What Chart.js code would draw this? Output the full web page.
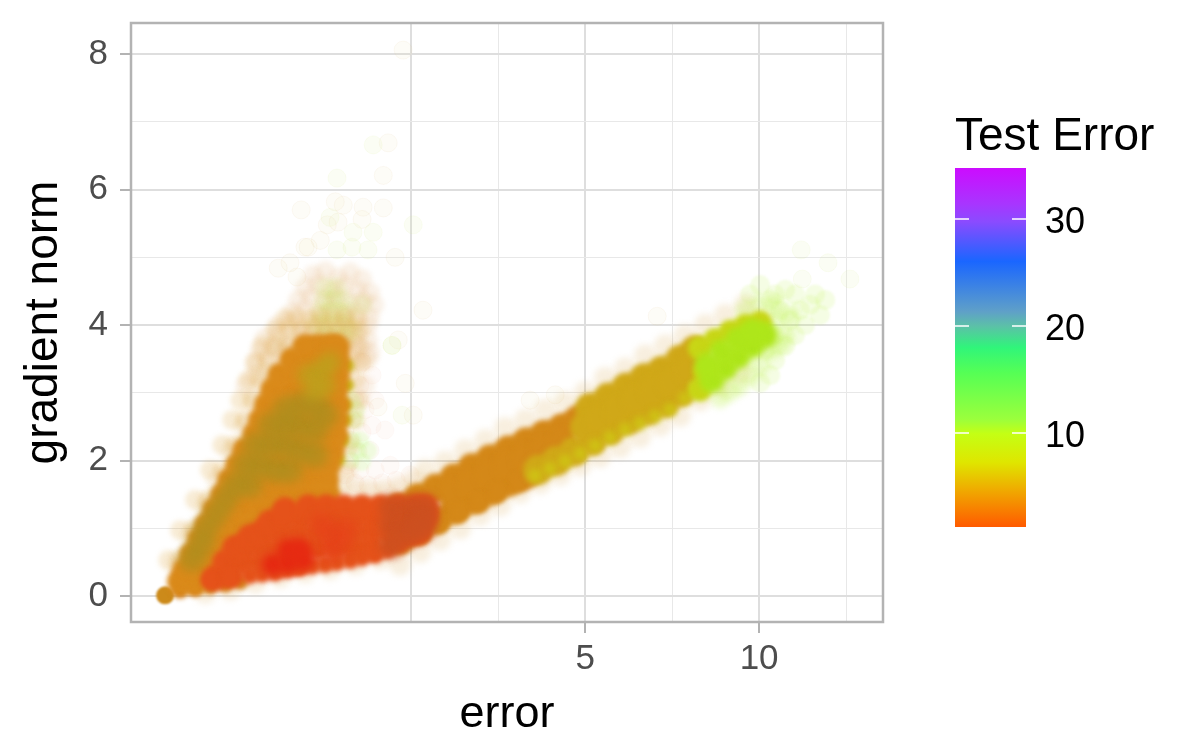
<!DOCTYPE html>
<html>
<head>
<meta charset="utf-8">
<title>gradient norm vs error</title>
<script src="https://cdn.jsdelivr.net/npm/chart.js@4/dist/chart.umd.min.js"></script>
<style>
  html, body { margin: 0; padding: 0; background: #fff; }
  canvas { display: block; }
</style>
</head>
<body>
<canvas id="chart" width="1200" height="750"></canvas>
<script>
// axis ticks
const xTickValues = [0, 2.5, 5, 7.5, 10, 12.5];
const xTickLabels = ['', '', '5', '', '10', ''];
const yTickValues = [0, 1, 2, 3, 4, 5, 6, 7, 8];
const yTickLabels = ['0', '', '2', '', '4', '', '6', '', '8'];

// colour bar
const colorBarTicks = [10, 20, 30];
const colorBarRange = [1.21, 34.77];
const colorBarStops = [
  [0, '#cc0cff'], [0.1, '#a835ff'], [0.15, '#8a4bff'], [0.26, '#1a66ff'],
  [0.4, '#5fa0c8'], [0.44, '#5cc0a8'], [0.5, '#30f57a'], [0.57, '#55ff55'],
  [0.7, '#9bff3c'], [0.74, '#c4ff14'], [0.82, '#dfe600'], [0.9, '#f0a800'], [1, '#ff5a00']
];

// stray points
const strayPeach = [
  [-0.23,8.06],[-0.66,6.69],[-0.80,6.21],[-3.16,5.70],[-2.18,5.82],[-1.95,5.77],[-1.38,5.74],[-0.80,5.73],
  [-2.41,5.48],[-2.10,5.52],[-1.41,5.56],[-2.61,5.25],[-3.05,5.15],[-2.96,5.15],[-0.46,5.00],[-3.48,4.92],
  [-3.82,4.84],[-3.28,4.71],[0.34,4.22],[-0.37,3.78],[-0.17,3.14],[-0.95,2.79],[0.06,2.67],[7.07,4.13],[3.42,2.89],[4.14,2.97]
];
const strayGreen = [
  [-1.09,6.66],[-2.13,6.17],[-2.33,5.59],[0.06,5.48],[-1.67,5.37],[-1.09,5.37],[-1.70,5.15],[-2.13,5.11],
  [-1.24,5.11],[-0.55,3.70],[-0.55,3.70],[-0.26,2.67],[11.21,5.11],[11.98,4.92],[12.61,4.68],[11.24,4.68]
];

// thin cloud above the left arm
const coneFuzz = [
  [-2.82,4.74],[-2.47,4.80],[-2.10,4.70],[-1.75,4.78],[-1.41,4.68],
  [-3.05,4.55],[-2.67,4.60],[-2.30,4.50],[-1.93,4.58],[-1.55,4.52],[-1.18,4.48],
  [-3.25,4.37],[-2.87,4.42],[-2.50,4.33],[-2.13,4.40],[-1.75,4.32],[-1.38,4.37],[-1.06,4.30],
  [-3.42,4.19],[-3.05,4.24],[-2.67,4.15],[-2.30,4.22],[-1.93,4.14],[-1.55,4.20],[-1.18,4.12],
  [-3.82,4.00],[-3.48,4.05],[-3.10,3.96],[-2.73,4.02],[-2.36,3.95],[-1.98,4.03],[-1.61,3.97],[-1.24,4.00],
  [-4.20,3.81],[-3.82,3.86],[-3.45,3.78],[-3.05,3.84],[-2.70,3.78],[-2.33,3.84],[-1.95,3.79],[-1.58,3.85],[-1.24,3.78],
  [-4.34,3.63],[-3.97,3.68],[-3.65,3.60],[-1.61,3.63],[-1.41,3.68],[-1.18,3.60],
  [-4.48,3.45],[-4.14,3.50],[-1.55,3.45],[-1.24,3.50],[-4.77,3.11],[-4.48,3.26],[-1.32,3.11],[-1.47,2.89]
];
const coneGreen = [
  [-2.47,4.55],[-2.16,4.55],[-2.50,4.37],[-2.24,4.37],[-1.95,4.37],[-2.61,4.19],[-2.36,4.19],[-2.10,4.19],[-1.84,4.19],
  [-2.73,4.00],[-2.47,4.00],[-2.21,4.00],[-1.90,4.00],[-2.56,3.81],[-2.24,3.81],[-1.93,3.81],[-1.70,3.93],[-1.41,4.30]
];
// thicker fringe hugging the arm
const coneMid = [
  [-4.28,3.70],[-3.91,3.70],[-3.53,3.70],[-1.90,3.70],[-1.55,3.70],
  [-3.91,3.93],[-3.53,3.93],[-3.19,3.93],[-2.84,3.93],[-2.50,3.93],[-2.16,3.93],[-1.81,3.93],[-1.47,3.93],
  [-3.62,4.10],[-3.28,4.10],[-2.93,4.10],[-2.59,4.10],[-2.24,4.10],[-1.90,4.10],[-1.55,4.10],
  [-4.48,3.45],[-4.11,3.45],[-1.75,3.45],[-1.41,3.45],[-4.68,3.19],[-4.34,3.19],[-1.61,3.19],
  [-4.91,2.89],[-4.57,2.89],[-1.52,2.89],[-5.14,2.60],[-4.77,2.60],[-1.61,2.60],
  [-5.43,2.23],[-5.06,2.23],[-1.75,2.23],[-5.78,1.86],[-5.43,1.86],[-1.84,1.86],
  [-6.21,1.42],[-5.83,1.42],[-6.64,.97],[-6.26,.97],[-6.98,.53],[-6.64,.53]
];
// pale patch right of the arm, just above the band
const sideFuzz = [
  [-1.70,3.63],[-1.41,3.45],[-1.75,3.26],[-1.47,3.11],[-1.12,3.26],[-1.61,2.89],[-1.32,2.75],[-1.03,2.89],
  [-1.70,2.60],[-1.41,2.42],[-1.12,2.52],[-0.75,2.45],[-1.75,2.30],[-1.52,2.13],[-1.18,2.15],[-1.75,1.98],
  [-1.47,1.86],[-1.03,1.86],[-0.60,1.93],[-1.90,1.79],[-1.61,1.67],[-1.24,1.64],[-0.83,1.67],[-0.43,1.71],[-0.03,1.79],
  [-1.84,2.75],[-1.90,2.45],[-1.84,2.15],[-1.84,1.93]
];
const sideGreen = [
  [-1.70,2.89],[-1.61,2.60],[-1.70,2.30],[-1.55,2.15],[-1.75,2.01],[-1.41,1.98],[-1.47,2.30],[-1.58,2.75],[-1.24,2.15]
];
// soft edge round the arm and the band
const edgeHalo = [
  [-6.70,.46],[-6.29,.90],[-5.86,1.34],[-5.55,1.71],[-5.14,2.15],[-4.77,2.52],[-4.48,2.89],[-4.11,3.26],[-3.76,3.63],
  [0.40,1.86],[0.98,1.98],[1.55,2.15],[2.13,2.30],[2.70,2.48],[3.28,2.60],[3.85,2.75],[4.43,2.86],[5.00,3.01],
  [5.57,3.22],[6.15,3.36],[6.72,3.55],[7.30,3.70],[7.87,3.85],[8.45,4.00],[9.02,4.15],[9.60,4.30],
  [-0.32,.46],[0.26,.65],[0.83,.83],[1.41,1.00],[1.98,1.20],[2.56,1.34],[3.13,1.53],[3.71,1.67],[4.28,1.79],
  [4.86,1.93],[5.43,2.06],[6.01,2.20],[6.58,2.35],[7.16,2.52],[7.73,2.66],[8.30,2.89],[8.88,3.11],[9.45,3.30],
  [-2.04,1.62],[-1.61,1.58],[-1.18,1.55],[-0.75,1.55],[-0.32,1.60],[0.11,1.70],
  [-5.92,.05],[-5.20,.10],[-4.48,.20],[-3.76,.28],[-3.05,.35],[-2.33,.40],[-1.61,.47],[-0.89,.55]
];
const tailHalo = [
  [10.32,4.37],[10.60,4.22],[10.89,4.07],[11.18,4.22],[11.47,4.30],[11.03,4.45],[10.75,4.52],[10.46,4.45],
  [11.61,4.45],[11.90,4.37],[11.75,4.15],[11.32,4.00],[11.03,3.85],[10.75,3.70],[10.46,3.48],[10.32,3.26],
  [10.03,4.59],[9.74,4.45],[10.03,3.15],[10.46,3.85],[10.17,3.63]
];
const tailGlow = [
  [10.46,4.07],[10.75,3.85],[10.60,3.70],[10.32,3.63],[10.03,3.41],[9.74,3.26],[9.45,3.11],
  [10.89,4.15],[10.46,4.30],[10.03,4.30],[9.60,4.22],[9.17,3.02],[8.88,2.92]
];

// dense body of the right band, one list per colour zone
const bandYellowEdge = [
  [3.56,1.78],[3.99,1.88],[4.43,1.99],[4.86,2.10],[5.29,2.22],[5.72,2.34],[6.15,2.46],[6.58,2.55],[7.01,2.65],[7.44,2.75],[7.87,2.92],[8.22,3.06]
];
const bandOrange = [
  [-0.32,1.30],[0.20,1.45],[0.72,1.59],[1.24,1.74],[1.75,1.89],[2.27,2.02],[2.79,2.15],[3.30,2.27],[3.82,2.38],[4.34,2.48],[4.80,2.60],
  [-0.32,.83],[0.20,.97],[0.72,1.12],[1.24,1.27],[1.75,1.42],[2.27,1.55],[2.79,1.68],[3.30,1.80],
  [1.24,1.51],[1.75,1.65],[2.27,1.79],[2.79,1.92],[3.30,2.03],[3.82,2.13],[4.34,2.25]
];
const bandUnder = [[0.26,.93],[0.83,1.09],[1.41,1.24],[1.98,1.37],[2.50,1.52],[3.13,1.67]];
const bandGold = [
  [3.65,1.86],[4.17,1.99],[4.68,2.13],[5.20,2.29],[5.72,2.45],[6.24,2.60],[6.75,2.73],[7.27,2.85],[7.73,3.01],
  [5.14,2.78],[5.66,2.93],[6.18,3.08],[6.70,3.22],[7.21,3.33],[7.73,3.49],[8.16,3.63],
  [5.00,2.49],[5.43,2.60],[5.95,2.76],[6.47,2.90],[6.98,3.04],[7.50,3.15],[8.02,3.32]
];
const bandLime = [[8.30,3.66],[8.74,3.78],[9.17,3.90],[9.60,3.99],[10.03,4.04],[8.45,3.30],[8.30,3.05]];
const bandGreen = [
  [8.65,3.19],[9.02,3.37],[9.40,3.54],[9.80,3.70],[10.17,3.85],[8.94,3.60],[9.40,3.78],[9.80,3.90],[8.53,3.41]
];

// left arm
const armTip = [[-7.07,0.01]];
const armFoot = [[-6.64,.08],[-6.21,.11],[-5.78,.14],[-5.34,.17],[-4.91,.21]];
const armOrange = [
  [-6.64,.21],[-6.21,.21],[-6.49,.38],[-6.06,.38],[-5.63,.38],[-6.29,.61],[-5.86,.61],[-5.43,.61],
  [-6.06,.83],[-5.63,.83],[-5.20,.83],[-4.77,.83],[-5.86,1.05],[-5.43,1.05],[-5.00,1.05],[-4.57,1.05],[-4.14,1.05],
  [-5.63,1.27],[-5.20,1.27],[-4.77,1.27],[-4.34,1.27],[-3.91,1.27],[-3.48,1.27],
  [-5.40,1.49],[-4.97,1.49],[-4.54,1.49],[-4.11,1.49],[-3.68,1.49],[-3.25,1.49],[-2.82,1.49],[-2.39,1.49],
  [-5.20,1.71],[-4.77,1.71],[-4.34,1.71],[-3.91,1.71],[-3.48,1.71],[-3.05,1.71],[-2.61,1.71],[-2.44,1.71],
  [-4.97,1.93],[-4.54,1.93],[-4.11,1.93],[-3.68,1.93],[-3.25,1.93],[-2.82,1.93],[-2.39,1.93],
  [-4.77,2.15],[-4.34,2.15],[-3.91,2.15],[-3.48,2.15],[-3.05,2.15],[-2.61,2.15],[-2.27,2.15],
  [-4.48,2.38],[-4.11,2.38],[-3.68,2.38],[-3.25,2.38],[-2.82,2.38],[-2.39,2.38],[-2.18,2.38],
  [-4.31,2.60],[-3.91,2.60],[-3.48,2.60],[-3.05,2.60],[-2.61,2.60],[-2.18,2.60],
  [-4.14,2.82],[-3.68,2.82],[-3.25,2.82],[-2.82,2.82],[-2.39,2.82],[-2.13,2.82],
  [-3.97,3.04],[-3.45,3.04],[-3.02,3.04],[-2.59,3.04],[-2.18,3.04],
  [-3.76,3.26],[-3.25,3.26],[-2.79,3.26],[-2.36,3.26],[-2.13,3.26],
  [-3.42,3.48],[-2.90,3.48],[-2.47,3.48],[-2.13,3.48],
  [-3.05,3.68],[-2.67,3.68],[-2.33,3.68],[-2.13,3.68]
];
const armOlive = [
  [-6.30,.55],[-6.06,.75],[-5.92,.97],[-5.63,1.20],[-5.34,1.42],[-5.06,1.64],[-4.63,1.64],[-4.77,1.93],[-4.34,1.93],[-3.91,1.86],[-3.48,1.86],
  [-4.48,2.23],[-4.05,2.23],[-3.62,2.23],[-3.19,2.16],[-2.76,2.08],[-4.05,2.52],[-3.62,2.52],[-3.19,2.52],[-2.76,2.45],[-2.47,2.67],
  [-3.62,2.75],[-3.19,2.82],[-2.76,2.82]
];
const armGreen = [[-2.96,3.26],[-2.61,3.33],[-2.47,3.11],[-2.79,3.04],[-2.33,3.45]];
const armEdge = [[-1.90,2.82],[-1.90,2.60],[-1.98,2.30],[-2.10,2.01],[-1.84,3.11],[-1.84,3.40]];

// red lower wedge
const wedgeOrange = [
  [-5.63,.27],[-5.20,.31],[-5.34,.50],[-4.83,.50],[-4.31,.50],[-3.79,.50],[-3.28,.49],
  [-5.06,.71],[-4.77,.72],[-4.25,.72],[-3.74,.72],[-3.22,.72],[-2.70,.72],[-2.18,.72],[-1.67,.72],[-1.15,.72],
  [-4.63,.87],[-4.28,.94],[-3.76,.94],[-3.25,.94],[-2.73,.94],[-2.21,.94],[-1.70,.94],[-1.18,.94],[-0.66,.94],[-0.23,.94],[0.20,.94],
  [-4.05,1.09],[-3.62,1.17],[-3.10,1.17],[-2.59,1.17],[-2.07,1.17],[-1.55,1.17],[-1.03,1.17],[-0.52,1.17],[0,1.17],[0.40,1.17],
  [-3.62,1.27],[-2.96,1.31],[-2.44,1.31],[-1.93,1.31],[-1.41,1.31],[-0.89,1.31],[-0.37,1.31],[0.14,1.31],[0.40,1.31]
];
const wedgeFloor = [
  [-5.78,.23],[-5.20,.27],[-4.63,.31],[-4.28,.33],[-3.91,.35],[-3.56,.39],[-3.19,.43],[-2.84,.45],[-2.47,.47],
  [-2.13,.50],[-1.75,.53],[-1.41,.57],[-1.03,.61],[-0.69,.68],[-0.32,.77],[-0.03,.87],[0.26,.96]
];
const wedgeRust = [
  [-0.55,1.31],[-0.03,1.31],[0.40,1.31],[-0.55,1.05],[-0.03,1.09],[0.40,1.15],[-0.55,.75],[-0.09,.90],[0.32,1.00]
];
const wedgeCore = [[-3.97,.46],[-3.53,.49],[-3.10,.53],[-3.53,.68],[-3.19,.69]];
const wedgeMid = [[-2.39,.65],[-2.04,.75],[-2.33,.90],[-1.90,.97],[-2.56,1.05]];

const layers = [
  { data: strayPeach,     color: 'rgba(238,220,170,0.09)', r: 9,  ring: 'rgba(225,200,150,0.10)' },
  { data: strayGreen,     color: 'rgba(215,240,150,0.10)', r: 9,  ring: 'rgba(215,235,150,0.10)' },
  { data: coneFuzz,       color: 'rgba(226,178,130,0.19)', r: 10, glow: 2.5 },
  { data: coneGreen,      color: 'rgba(190,215,70,0.16)',  r: 10, glow: 2.5 },
  { data: sideFuzz,       color: 'rgba(236,190,170,0.08)', r: 9,  ring: 'rgba(230,190,170,0.06)' },
  { data: sideGreen,      color: 'rgba(190,250,130,0.22)', r: 9,  glow: 1.5 },
  { data: coneMid,        color: 'rgba(222,170,70,0.22)',  r: 10, glow: 2.5 },
  { data: edgeHalo,       color: 'rgba(225,180,110,0.22)', r: 11, glow: 3 },
  { data: tailHalo,       color: 'rgba(190,245,90,0.16)',  r: 10, glow: 1 },
  { data: tailGlow,       color: 'rgba(185,240,70,0.28)',  r: 10, glow: 3 },
  { data: bandOrange,     color: '#d48818', r: 15, glow: 2.5 },
  { data: bandUnder,      color: '#d48818', r: 10, glow: 2.5 },
  { data: bandGold,       color: '#d0a818', r: 15, glow: 2.5 },
  { data: bandYellowEdge, color: 'rgba(207,196,20,0.85)', r: 7, glow: 3 },
  { data: bandLime,       color: '#c8d616', r: 12, glow: 2.5 },
  { data: bandGreen,      color: '#aee61a', r: 13, glow: 3 },
  { data: armEdge,        color: '#c9b216', r: 7,  glow: 2.5 },
  { data: armTip,         color: '#cc8a1a', r: 9,  glow: 1 },
  { data: armFoot,        color: '#d4801a', r: 8,  glow: 2.5 },
  { data: armOrange,      color: '#da8a1a', r: 13, glow: 2.5 },
  { data: armOlive,       color: 'rgba(172,143,30,0.7)',  r: 13, glow: 5 },
  { data: armGreen,       color: 'rgba(185,165,30,0.6)',  r: 11, glow: 5 },
  { data: wedgeOrange,    color: '#e5521a', r: 13, glow: 2.5 },
  { data: wedgeFloor,     color: '#e5521a', r: 9,  glow: 2.5 },
  { data: wedgeRust,      color: 'rgba(205,80,32,0.85)',  r: 13, glow: 4 },
  { data: wedgeMid,       color: 'rgba(232,64,26,0.5)',   r: 12, glow: 5 },
  { data: wedgeCore,      color: '#e62a12', r: 11, glow: 4 }
];

const FONT = '"Liberation Sans", Arial, sans-serif';

// soft edge for the dense layers
const glowPlugin = {
  id: 'glow',
  beforeDatasetDraw(chart, args) {
    const ds = chart.data.datasets[args.index];
    if (!ds.glow) return;
    chart.ctx.save();
    chart.ctx.filter = 'blur(' + ds.glow + 'px)';
  },
  afterDatasetDraw(chart, args) {
    if (chart.data.datasets[args.index].glow) chart.ctx.restore();
  }
};

const panelBorderPlugin = {
  id: 'panelBorder',
  afterDatasetsDraw(chart) {
    const { ctx, chartArea: a } = chart;
    ctx.save();
    ctx.strokeStyle = '#b3b3b3';
    ctx.lineWidth = 2.5;
    ctx.strokeRect(a.left, a.top, a.right - a.left, a.bottom - a.top);
    ctx.restore();
  }
};

const colorBarPlugin = {
  id: 'colorBar',
  afterDraw(chart) {
    const ctx = chart.ctx;
    const left = 955, right = 1026, top = 168, bottom = 527;
    const yOf = v => bottom - (v - colorBarRange[0]) / (colorBarRange[1] - colorBarRange[0]) * (bottom - top);
    const grad = ctx.createLinearGradient(0, top, 0, bottom);
    colorBarStops.forEach(s => grad.addColorStop(s[0], s[1]));
    ctx.save();
    ctx.fillStyle = grad;
    ctx.fillRect(left, top, right - left, bottom - top);

    ctx.strokeStyle = '#fff';
    ctx.lineWidth = 1.5;
    ctx.fillStyle = '#000';
    ctx.font = '36px ' + FONT;
    ctx.textAlign = 'left';
    ctx.textBaseline = 'middle';
    colorBarTicks.forEach(t => {
      const y = yOf(t);
      ctx.beginPath();
      ctx.moveTo(left, y); ctx.lineTo(left + 14, y);
      ctx.moveTo(right - 14, y); ctx.lineTo(right, y);
      ctx.stroke();
      ctx.fillText(String(t), 1045, y + 4);
    });

    ctx.font = '46px ' + FONT;
    ctx.textBaseline = 'alphabetic';
    ctx.fillText('Test Error', 955, 150);
    ctx.restore();
  }
};

new Chart(document.getElementById('chart'), {
  type: 'scatter',
  data: {
    // chart.js paints the first dataset last, so flip the list
    datasets: layers.slice().reverse().map(l => ({
      data: l.data.map(p => ({ x: p[0], y: p[1] })),
      backgroundColor: l.color,
      borderColor: l.ring || 'transparent',
      borderWidth: l.ring ? 1 : 0,
      pointRadius: l.r,
      pointHoverRadius: l.r,
      glow: l.glow || 0
    }))
  },
  options: {
    responsive: false,
    animation: false,
    layout: { autoPadding: false, padding: { top: 23, right: 317, left: 0, bottom: 0 } },
    plugins: { legend: { display: false }, tooltip: { enabled: false } },
    scales: {
      x: {
        type: 'linear',
        min: -8.05,
        max: 13.56,
        afterBuildTicks: s => { s.ticks = xTickValues.map(v => ({ value: v })); },
        afterFit: s => { s.height = 128; s.paddingLeft = 0; s.paddingRight = 0; },
        border: { display: false },
        grid: {
          color: c => (xTickValues.indexOf(c.tick.value) % 2 === 0 ? '#dedede' : '#e8e8e8'),
          lineWidth: c => (xTickValues.indexOf(c.tick.value) % 2 === 0 ? 2 : 1),
          tickColor: c => (xTickLabels[xTickValues.indexOf(c.tick.value)] ? '#b3b3b3' : 'transparent'),
          tickLength: 11,
          tickWidth: 2
        },
        ticks: {
          autoSkip: false,
          maxRotation: 0,
          padding: 5,
          color: '#4d4d4d',
          font: { family: FONT, size: 35 },
          callback: v => xTickLabels[xTickValues.indexOf(v)]
        },
        title: { display: true, text: 'error', color: '#000', font: { family: FONT, size: 45 }, padding: { top: 0, bottom: 8 } }
      },
      y: {
        type: 'linear',
        min: -0.384,
        max: 8.46,
        afterBuildTicks: s => { s.ticks = yTickValues.map(v => ({ value: v })); },
        afterFit: s => { s.width = 131; s.paddingTop = 0; s.paddingBottom = 0; },
        border: { display: false },
        grid: {
          color: c => (c.tick.value % 2 === 0 ? '#dedede' : '#e8e8e8'),
          lineWidth: c => (c.tick.value % 2 === 0 ? 2 : 1),
          tickColor: c => (c.tick.value % 2 === 0 ? '#b3b3b3' : 'transparent'),
          tickLength: 11,
          tickWidth: 2
        },
        ticks: {
          autoSkip: false,
          padding: 12,
          color: '#4d4d4d',
          font: { family: FONT, size: 35 },
          callback: v => yTickLabels[yTickValues.indexOf(v)]
        },
        title: { display: true, text: 'gradient norm', color: '#000', font: { family: FONT, size: 46 }, padding: { top: 17, bottom: 0 } }
      }
    }
  },
  plugins: [glowPlugin, panelBorderPlugin, colorBarPlugin]
});
</script>
</body>
</html>
